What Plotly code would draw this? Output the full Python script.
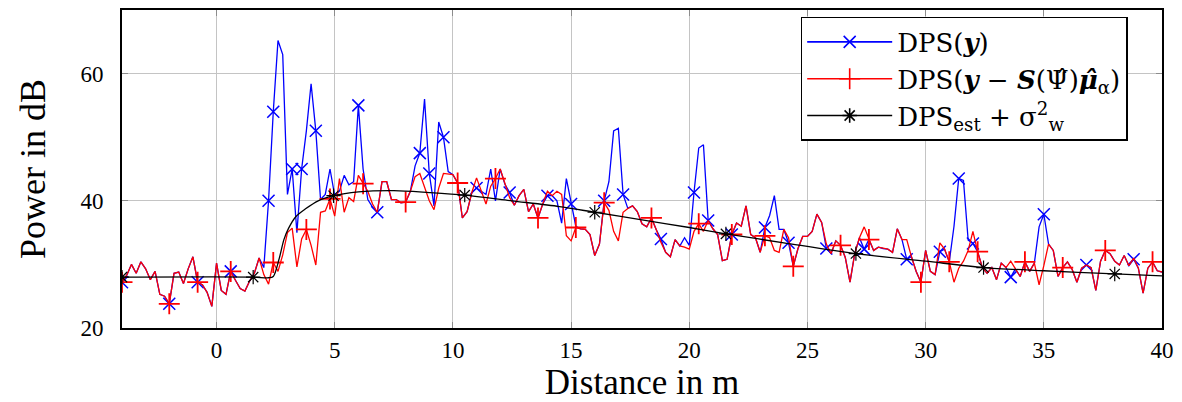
import numpy as np
import plotly.graph_objects as go

# ---------------- data ----------------
distance = np.round(np.linspace(-4.0, 40.0, 221), 1)   # sampling grid in m (0.2 m)

dps_y = [
    27.2, 28.3, 30.0, 28.6, 30.4,  29.3, 27.6, 28.9, 25.3, 25.0,
    23.8, 28.6, 28.8, 27.0, 29.3,  31.2, 27.2, 26.8, 25.6, 23.4,
    30.2, 25.9, 25.3, 28.9, 27.5,  26.2, 25.8, 27.4, 28.6, 31.0,
    29.5, 40.0, 54.0, 65.2, 63.0,  41.0, 45.0, 35.0, 45.0, 51.0,
    58.4, 51.0, 40.2, 41.0, 45.0,  40.8, 41.5, 44.0, 42.5, 43.0,
    55.0, 45.0, 40.2, 39.0, 38.2,  43.0, 43.0, 40.2, 40.2, 39.7,
    39.8, 41.5, 45.5, 47.5, 56.0,  44.3, 39.2, 52.4, 50.0, 44.6,
    44.1, 42.8, 37.3, 38.3, 41.3,  42.0, 41.5, 41.0, 45.0, 40.0,
    45.0, 42.6, 41.3, 39.3, 40.8,  41.8, 38.3, 39.5, 37.3, 39.5,
    40.8, 40.8, 40.0, 36.5, 43.5,  39.5, 36.0, 35.6, 35.5, 34.7,
    31.4, 33.2, 40.0, 43.0, 51.0,  51.4, 41.0, 38.8, 39.2, 38.3,
    36.4, 35.9, 37.3, 35.5, 34.0,  31.9, 31.2, 33.9, 32.9, 34.2,
    33.0, 41.3, 48.3, 48.8, 36.9,  35.6, 34.7, 30.6, 30.8, 34.7,
    36.5, 36.0, 39.2, 34.7, 34.2,  31.9, 35.8, 37.7, 40.8, 35.5,
    35.5, 33.4, 29.7, 32.5, 34.4,  34.4, 35.2, 37.9, 36.6, 32.5,
    31.7, 33.7, 33.0, 31.1, 27.2,  31.7, 34.2, 32.4, 33.9, 32.2,
    32.7, 32.5, 32.4, 31.9, 35.6,  33.9, 30.8, 31.2, 28.9, 27.2,
    32.2, 28.9, 28.4, 32.0, 32.4,  30.4, 36.0, 43.5, 43.2, 33.8,
    33.3, 32.0, 29.5, 28.6, 29.5,  27.6, 30.2, 29.5, 28.0, 29.3,
    28.1, 30.4, 28.9, 30.2, 35.9,  37.9, 33.2, 32.2, 28.1, 29.5,
    30.4, 29.2, 27.2, 29.4, 29.9,  29.5, 25.9, 30.5, 32.2, 31.7,
    30.5, 29.9, 31.4, 29.8, 30.8,  29.4, 25.5, 29.4, 30.4, 29.0,
    28.8,
]

dps_residual = [
    27.2, 28.3, 30.0, 28.6, 30.4,  29.3, 27.6, 28.9, 25.3, 25.0,
    23.8, 28.6, 28.8, 27.0, 29.3,  31.2, 27.2, 26.8, 25.6, 23.4,
    30.2, 25.9, 25.3, 28.9, 27.5,  26.2, 25.8, 27.4, 28.6, 31.0,
    28.4, 26.9, 30.3, 28.9, 31.5,  35.0, 35.7, 29.6, 34.0, 35.5,
    33.0, 29.9, 38.2, 38.4, 40.3,  37.6, 43.5, 38.2, 40.5, 39.9,
    44.0, 42.7, 41.5, 39.5, 38.2,  43.0, 43.0, 40.2, 40.2, 39.7,
    39.8, 41.5, 43.8, 44.3, 42.0,  40.0, 38.6, 42.0, 44.3, 44.2,
    44.1, 42.8, 37.3, 38.3, 41.3,  43.6, 41.5, 39.5, 42.3, 43.5,
    45.0, 42.6, 40.5, 39.3, 40.8,  41.8, 38.3, 39.5, 37.3, 39.5,
    41.5, 40.8, 41.5, 41.0, 34.5,  33.7, 35.8, 35.6, 35.5, 34.7,
    31.4, 33.2, 39.7, 38.5, 35.2,  33.7, 38.2, 38.8, 39.2, 38.3,
    36.4, 35.9, 37.3, 35.5, 33.5,  31.9, 31.2, 33.9, 32.9, 32.7,
    32.4, 35.2, 36.4, 35.2, 36.9,  35.6, 34.7, 30.6, 30.8, 34.7,
    36.5, 36.0, 39.2, 34.7, 34.2,  31.9, 34.5, 34.2, 32.2, 31.9,
    35.5, 34.2, 29.7, 32.5, 34.4,  34.4, 35.2, 37.9, 36.6, 33.2,
    31.7, 33.7, 33.0, 31.1, 27.2,  31.7, 34.2, 35.9, 33.9, 32.2,
    32.7, 32.5, 32.4, 31.9, 35.6,  33.9, 33.9, 31.2, 28.9, 27.2,
    32.2, 28.9, 28.4, 33.4, 32.4,  30.4, 27.2, 29.4, 30.5, 32.2,
    35.2, 32.0, 29.5, 28.6, 29.5,  27.6, 30.2, 29.5, 30.5, 29.3,
    28.1, 30.4, 28.9, 30.2, 26.8,  29.8, 33.2, 32.2, 28.1, 29.5,
    30.4, 29.2, 27.2, 29.4, 29.9,  29.5, 25.9, 30.5, 32.2, 31.7,
    30.5, 29.9, 31.4, 29.8, 31.0,  29.4, 25.5, 29.4, 30.4, 29.0,
    28.8,
]

est_distance = [-4.0, 1.55, 2.2, 2.4, 2.65, 2.85, 3.05, 3.35, 3.75, 4.3, 4.95,
                6.0, 7.5, 9.0, 10.5, 12.5, 14.5, 16.0, 18.0, 20.0, 21.55,
                24.0, 27.05, 30.0, 32.45, 35.0, 38.0, 40.0]
est_power = [28.0, 28.0, 27.9, 28.1, 30.9, 33.9, 35.7, 37.5, 38.7, 40.0, 40.8,
             41.4, 41.6, 41.3, 40.9, 40.0, 39.1, 38.2, 37.0, 35.8, 34.8,
             33.4, 31.7, 30.5, 29.5, 29.0, 28.5, 28.2]

blue_mark_at = [-4.0, -2.0, -0.8, 0.6, 2.2, 2.4, 3.2, 3.6, 4.2, 6.0, 6.8, 8.6, 9.0,
                9.6, 11.0, 12.4, 14.0, 15.0, 16.4, 17.2, 18.8, 20.2, 20.8, 21.8,
                23.2, 24.2, 25.8, 27.4, 29.2, 30.6, 31.4, 32.0, 33.6, 35.0, 36.8, 38.8]
red_mark_at = [-4.0, -2.0, -0.8, 0.6, 2.4, 3.8, 4.8, 6.2, 8.0, 10.2, 11.8, 13.6,
               15.2, 16.4, 18.4, 20.4, 21.8, 23.2, 24.4, 26.4, 27.6, 29.8, 31.0,
               32.2, 34.2, 35.8, 37.6, 39.6]
est_mark_at = [-4.0, 1.55, 4.95, 10.5, 16.0, 21.55, 27.05, 32.45, 38.0]

x_ticks = [0, 5, 10, 15, 20, 25, 30, 35, 40]
y_ticks = [20, 40, 60]

names = [
    "DPS(<b><i>y</i></b>)",
    "DPS(<b><i>y</i></b> − <b><i>S</i></b>(Ψ̂)<b><i>μ̂</i></b><sub>α</sub>)",
    "DPS<sub>est</sub> + σ<sup>2</sup><sub>w</sub>",
]

# ---------------- figure ----------------
FONT = "Liberation Serif"
LEG_FONT = "DejaVu Serif"
BLUE, RED, BLACK = "#0000ff", "#ff0000", "#000000"

def idx(marks):
    return [int(round((m - distance[0]) / 0.2)) for m in marks]

fig = go.Figure()

bi = idx(blue_mark_at)
ri = idx(red_mark_at)

fig.add_trace(go.Scatter(x=distance, y=dps_y, mode="lines",
                         line=dict(color=BLUE, width=1.3), showlegend=False))
fig.add_trace(go.Scatter(x=[distance[i] for i in bi], y=[dps_y[i] for i in bi],
                         mode="markers", showlegend=False,
                         marker=dict(symbol="x-thin-open", size=12, color=BLUE,
                                     line=dict(color=BLUE, width=1.5))))
fig.add_trace(go.Scatter(x=distance, y=dps_residual, mode="lines",
                         line=dict(color=RED, width=1.3), showlegend=False))
fig.add_trace(go.Scatter(x=[distance[i] for i in ri], y=[dps_residual[i] for i in ri],
                         mode="markers", showlegend=False,
                         marker=dict(symbol="cross-thin-open", size=15, color=RED,
                                     line=dict(color=RED, width=1.8))))
fig.add_trace(go.Scatter(x=est_distance, y=est_power, mode="lines",
                         line=dict(color=BLACK, width=1.3, shape="spline", smoothing=0.8),
                         showlegend=False))
ei = [est_distance.index(m) for m in est_mark_at]
fig.add_trace(go.Scatter(x=[est_distance[i] for i in ei], y=[est_power[i] for i in ei],
                         mode="markers", showlegend=False,
                         marker=dict(symbol="asterisk-open", size=12, color=BLACK,
                                     line=dict(color=BLACK, width=1.2))))

# legend entries
for nm, col, sym, sz in [(names[0], BLUE, "x-thin-open", 12),
                         (names[1], RED, "cross-thin-open", 15),
                         (names[2], BLACK, "asterisk-open", 12)]:
    fig.add_trace(go.Scatter(x=[None], y=[None], mode="lines+markers", name=nm,
                             line=dict(color=col, width=1.6),
                             marker=dict(symbol=sym, size=sz, color=col,
                                         line=dict(color=col, width=1.6))))

axis_common = dict(
    showgrid=True, gridcolor="#c4c4c4", gridwidth=1.3,
    zeroline=False, showline=True, linecolor="black", linewidth=2, mirror="ticks",
    ticks="inside", ticklen=6, tickcolor="#8c8c8c", tickwidth=1.3,
    tickfont=dict(family=FONT, size=23, color="black"),
)

fig.update_layout(
    width=1182, height=402,
    margin=dict(l=122, r=13, t=8, b=65),
    paper_bgcolor="white", plot_bgcolor="white",
    font=dict(family=FONT, color="black"),
    xaxis=dict(range=[-4, 40], tickvals=x_ticks, **axis_common,
               title=dict(text="Distance in m", font=dict(family=FONT, size=35), standoff=7)),
    yaxis=dict(range=[20, 70], tickvals=y_ticks, ticklabelstandoff=12, **axis_common,
               title=dict(text="Power in dB", font=dict(family=FONT, size=36), standoff=24)),
    legend=dict(x=0.967, y=0.978, xanchor="right", yanchor="top",
                bgcolor="white", bordercolor="black", borderwidth=1.5,
                font=dict(family=LEG_FONT, size=26, color="black"),
                itemwidth=85, tracegroupgap=0),
)

fig.write_html("out.html", config={"displayModeBar": False},
               post_script="document.body.style.margin='0';")
